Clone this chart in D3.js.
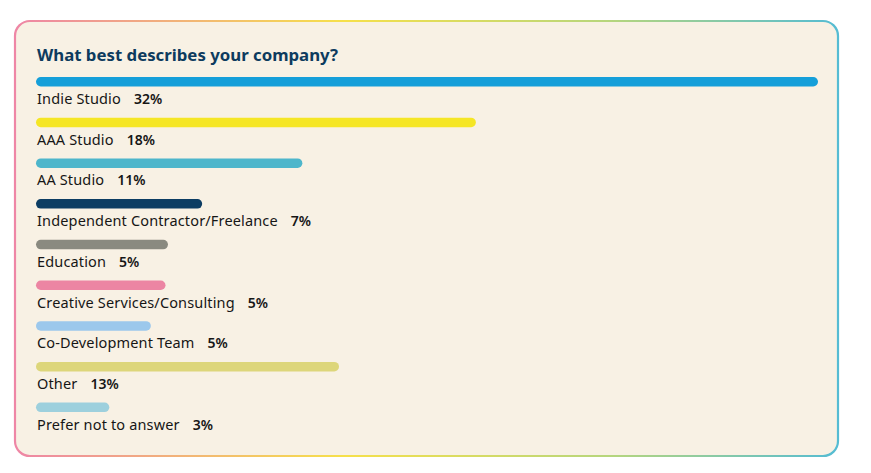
<!DOCTYPE html>
<html>
<head>
<meta charset="utf-8">
<script src="https://cdn.jsdelivr.net/npm/d3@7"></script>
<style>
  html, body { margin: 0; padding: 0; background: #ffffff; }
  svg text { font-family: "Noto Sans", "DejaVu Sans", sans-serif; }
</style>
</head>
<body>
<div id="chart"></div>
<script>
// chart data
const title = 'What best describes your company?';
const categories = ['Indie Studio', 'AAA Studio', 'AA Studio', 'Independent Contractor/Freelance',
  'Education', 'Creative Services/Consulting', 'Co-Development Team', 'Other', 'Prefer not to answer'];
const values = [32, 18, 10.9, 6.8, 5.4, 5.3, 4.7, 12.4, 3.0];
const valueLabels = ['32%', '18%', '11%', '7%', '5%', '5%', '5%', '13%', '3%'];
const barColors = ['#159fd9', '#f5e625', '#4db6cb', '#0c3d63', '#8a8a80', '#ec85a3', '#9cc8ec', '#ddd67a', '#9dd0dd'];

const config = {
  width: 871,
  height: 473,
  card: {x: 15, y: 21, w: 823, h: 435, r: 15},
  margin: {top: 77, left: 36, right: 53},
  rowStep: 40.7,
  barHeight: 9.5,
  labelOffset: 27
};

const svg = d3.select('#chart').append('svg')
    .attr('width', config.width)
    .attr('height', config.height);

// border gradient of the card
const grad = svg.append('defs').append('linearGradient')
    .attr('id', 'card-border')
    .attr('x1', '0%').attr('x2', '100%')
    .attr('y1', '0%').attr('y2', '0%');
grad.selectAll('stop')
    .data([
      {offset: '0%', color: '#ee86a6'},
      {offset: '40%', color: '#f6e04a'},
      {offset: '72%', color: '#b7d67c'},
      {offset: '100%', color: '#55bcd3'}
    ])
  .join('stop')
    .attr('offset', d => d.offset)
    .attr('stop-color', d => d.color);

svg.append('rect')
    .attr('x', config.card.x)
    .attr('y', config.card.y)
    .attr('width', config.card.w)
    .attr('height', config.card.h)
    .attr('rx', config.card.r)
    .attr('fill', '#f8f1e4')
    .attr('stroke', 'url(#card-border)')
    .attr('stroke-width', 2.2);

svg.append('text')
    .attr('x', 37)
    .attr('y', 61)
    .attr('fill', '#0d3b5e')
    .attr('font-size', 16.8)
    .attr('font-weight', 700)
    .text(title);

const xScale = d3.scaleLinear()
    .domain([0, d3.max(values)])
    .range([config.margin.left, config.width - config.margin.right]);

const yScale = d3.scalePoint()
    .domain(categories)
    .range([config.margin.top, config.margin.top + config.rowStep * (categories.length - 1)]);

const rows = svg.append('g')
    .selectAll('g')
    .data(categories.map((c, i) => ({cat: c, value: values[i], label: valueLabels[i], color: barColors[i]})))
  .join('g')
    .attr('transform', d => `translate(0,${yScale(d.cat)})`);

rows.append('rect')
    .attr('x', xScale(0))
    .attr('y', 0)
    .attr('width', d => xScale(d.value) - xScale(0))
    .attr('height', config.barHeight)
    .attr('rx', config.barHeight / 2)
    .attr('fill', d => d.color);

rows.append('text')
    .attr('class', 'cat')
    .attr('x', 37)
    .attr('y', config.labelOffset)
    .attr('font-size', 14.5)
    .attr('letter-spacing', 0.15)
    .attr('fill', '#161616')
    .text(d => d.cat);

rows.each(function() {
  const g = d3.select(this);
  const w = g.select('text.cat').node().getComputedTextLength();
  g.append('text')
      .attr('x', 37 + w + 13)
      .attr('y', config.labelOffset)
      .attr('font-size', 14)
      .attr('font-weight', 600)
      .attr('fill', '#161616')
      .text(d => d.label);
});
</script>
</body>
</html>
